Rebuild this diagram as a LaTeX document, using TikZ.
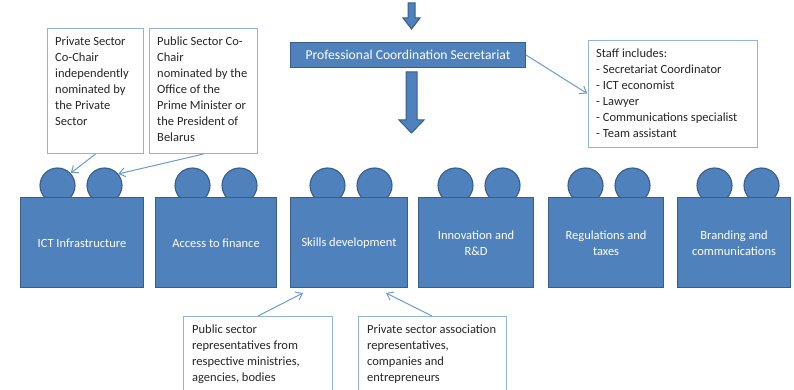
\documentclass[tikz,border=0pt]{standalone}
\usepackage{fontspec}
\setmainfont{Carlito}
\usetikzlibrary{arrows.meta}
\definecolor{bfill}{HTML}{4F81BD}
\definecolor{bdraw}{HTML}{385D8A}
\definecolor{cdraw}{HTML}{95B3D7}
\definecolor{conn}{HTML}{6A9AD2}
\definecolor{ctext}{HTML}{262626}
\begin{document}
\begin{tikzpicture}[x=1pt,y=-1pt,
  every node/.style={font=\fontsize{12.5}{16}\selectfont},
  bluebox/.style={draw=bdraw,fill=bfill,line width=1.1pt,rectangle,anchor=north west,inner sep=0pt},
  head/.style={draw=bdraw,fill=bfill,line width=1.1pt,circle,minimum size=35pt,inner sep=0pt},
  grouplabel/.style={text=white,align=center,inner sep=0pt},
  callout/.style={draw=cdraw,fill=white,line width=1pt,rectangle,anchor=north west,inner sep=0pt},
  callouttext/.style={text=ctext,align=left,anchor=north west,inner sep=0pt},
  blockarrow/.style={draw=bdraw,fill=bfill,line width=1pt,line join=miter},
  conn/.style={draw=conn,line width=1pt,-{Straight Barb[length=6pt,width=9pt]}},
]
\useasboundingbox (0,0) rectangle (794,390);
\clip (0,0) rectangle (794,390);

% top block arrow
\draw[blockarrow] (408,3) -- (415,3) -- (415,18) -- (420,18) -- (411.5,29) -- (403,18) -- (408,18) -- cycle;

% secretariat
\node[bluebox,minimum width=235pt,minimum height=25pt] (sec) at (290,42) {};
\node[text=white,inner sep=0pt,font=\fontsize{13.6}{16}\selectfont] (sectext) at (sec.center) {Professional Coordination Secretariat};

% lower block arrow
\draw[blockarrow] (406,72) -- (417,72) -- (417,120) -- (424,120) -- (411.5,133) -- (399,120) -- (406,120) -- cycle;

% staff box
\node[callout,minimum width=169pt,minimum height=107pt] (staff) at (588,40) {};
\node[callouttext] (stafftext) at (596,49) {Staff includes:\\- Secretariat Coordinator\\- ICT economist\\- Lawyer\\- Communications specialist\\- Team assistant};
\draw[conn,shorten >=1pt] (sec.east) -- (staff.west);

% co-chair callouts
\node[callout,minimum width=96pt,minimum height=125pt] (priv) at (47,28) {};
\node[callouttext] (privtext) at (55,37) {Private Sector\\Co-Chair\\independently\\nominated by\\the Private\\Sector};
\node[callout,minimum width=108pt,minimum height=125pt] (pub) at (149,28) {};
\node[callouttext] (pubtext) at (157,37) {Public Sector Co-\\Chair\\nominated by the\\Office of the\\Prime Minister or\\the President of\\Belarus};

% groups
\foreach \i/\l/\w/\t in {1/20/123/{ICT Infrastructure},2/155/121/{Access to finance},3/290/117/{Skills development},4/418/115/{Innovation and\\R\&D},5/548/115/{Regulations and\\taxes},6/677/113/{Branding and\\communications}}{
  \node[head] (ha\i) at (\l+37.5,185.5) {};
  \node[head] (hb\i) at (\l+84.5,185.5) {};
  \node[bluebox,minimum width=\w pt,minimum height=90pt] (g\i) at (\l,197) {};
  \node[grouplabel] (gt\i) at ([yshift=-1pt]g\i.center) {\t};
}

\draw[conn] (priv.south) -- (ha1.43);
\draw[conn] (pub.south) -- (hb1.40);

% bottom callouts
\node[callout,minimum width=149pt,minimum height=100pt] (pubrep) at (183,316) {};
\node[callouttext] (pubreptext) at (192,325) {Public sector\\representatives from\\respective ministries,\\agencies, bodies};
\node[callout,minimum width=148pt,minimum height=100pt] (privrep) at (358,316) {};
\node[callouttext] (privreptext) at (367,325) {Private sector association\\representatives,\\companies and\\entrepreneurs};
\coordinate (pubend) at (303,293);
\coordinate (privend) at (386,293);
\draw[conn] (pubrep.north west) ++(75,0) -- (pubend);
\draw[conn] (privrep.north west) ++(74,0) -- (privend);
\end{tikzpicture}
\end{document}
